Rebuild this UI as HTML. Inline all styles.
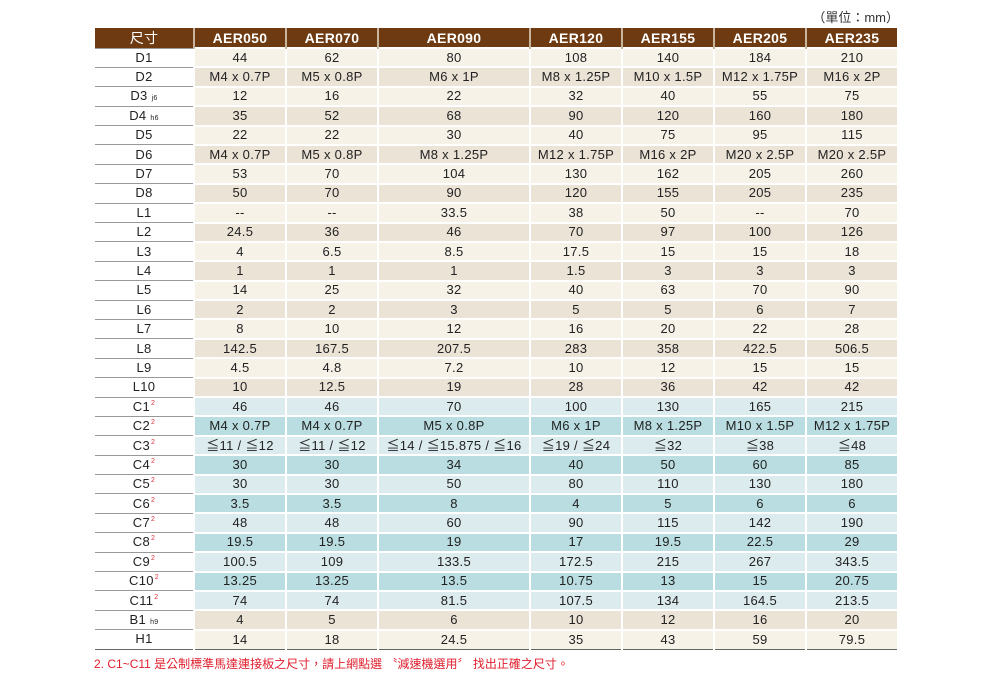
<!DOCTYPE html><html><head><meta charset="utf-8"><style>
body{margin:0;width:990px;height:678px;background:#fff;font-family:"Liberation Sans","Noto Sans CJK TC",sans-serif;position:relative;overflow:hidden}
table{position:absolute;left:95px;top:28px;border-collapse:collapse;table-layout:fixed;width:802px}
tr{height:19.4px}
tr.h{height:20px}
td,th{padding:0;text-align:center;font-size:13px;color:#222;line-height:14px;border-left:2px solid #fff;border-top:2px solid #fff;white-space:nowrap;letter-spacing:.3px}
th{background:#6e3a12;color:#fff;font-size:14px;font-weight:bold;border-top:none;border-left:2px solid #c9b39c}
th:first-child{font-weight:normal;border-left:none}
td:first-child{background:#fff;border-left:none;border-top:1px solid #999}
tr.a td{background:#f6f2e8}tr.b td{background:#ece3d7}
tr.c td{background:#dcebee}tr.d td{background:#b9dde1}
tr.a td:first-child,tr.b td:first-child,tr.c td:first-child,tr.d td:first-child{background:#fff}
sub{font-size:7px;vertical-align:baseline;margin-left:4px;line-height:0}
sup{font-size:7px;color:#e0303a;vertical-align:baseline;position:relative;top:-6px;line-height:0;margin-left:1px}
tr:last-child td{border-bottom:1px solid #666}
</style></head><body>
<div style="position:absolute;right:91px;top:7px;font-size:13px;color:#333">（單位：mm）</div>
<table>
<colgroup><col style="width:99px"><col style="width:92px"><col style="width:92px"><col style="width:152px"><col style="width:92px"><col style="width:92px"><col style="width:92px"><col style="width:91px"></colgroup>
<tr class="h"><th>尺寸</th><th>AER050</th><th>AER070</th><th>AER090</th><th>AER120</th><th>AER155</th><th>AER205</th><th>AER235</th></tr>
<tr class="a"><td>D1</td><td>44</td><td>62</td><td>80</td><td>108</td><td>140</td><td>184</td><td>210</td></tr>
<tr class="b"><td>D2</td><td>M4 x 0.7P</td><td>M5 x 0.8P</td><td>M6 x 1P</td><td>M8 x 1.25P</td><td>M10 x 1.5P</td><td>M12 x 1.75P</td><td>M16 x 2P</td></tr>
<tr class="a"><td>D3<sub>j6</sub></td><td>12</td><td>16</td><td>22</td><td>32</td><td>40</td><td>55</td><td>75</td></tr>
<tr class="b"><td>D4<sub>h6</sub></td><td>35</td><td>52</td><td>68</td><td>90</td><td>120</td><td>160</td><td>180</td></tr>
<tr class="a"><td>D5</td><td>22</td><td>22</td><td>30</td><td>40</td><td>75</td><td>95</td><td>115</td></tr>
<tr class="b"><td>D6</td><td>M4 x 0.7P</td><td>M5 x 0.8P</td><td>M8 x 1.25P</td><td>M12 x 1.75P</td><td>M16 x 2P</td><td>M20 x 2.5P</td><td>M20 x 2.5P</td></tr>
<tr class="a"><td>D7</td><td>53</td><td>70</td><td>104</td><td>130</td><td>162</td><td>205</td><td>260</td></tr>
<tr class="b"><td>D8</td><td>50</td><td>70</td><td>90</td><td>120</td><td>155</td><td>205</td><td>235</td></tr>
<tr class="a"><td>L1</td><td>--</td><td>--</td><td>33.5</td><td>38</td><td>50</td><td>--</td><td>70</td></tr>
<tr class="b"><td>L2</td><td>24.5</td><td>36</td><td>46</td><td>70</td><td>97</td><td>100</td><td>126</td></tr>
<tr class="a"><td>L3</td><td>4</td><td>6.5</td><td>8.5</td><td>17.5</td><td>15</td><td>15</td><td>18</td></tr>
<tr class="b"><td>L4</td><td>1</td><td>1</td><td>1</td><td>1.5</td><td>3</td><td>3</td><td>3</td></tr>
<tr class="a"><td>L5</td><td>14</td><td>25</td><td>32</td><td>40</td><td>63</td><td>70</td><td>90</td></tr>
<tr class="b"><td>L6</td><td>2</td><td>2</td><td>3</td><td>5</td><td>5</td><td>6</td><td>7</td></tr>
<tr class="a"><td>L7</td><td>8</td><td>10</td><td>12</td><td>16</td><td>20</td><td>22</td><td>28</td></tr>
<tr class="b"><td>L8</td><td>142.5</td><td>167.5</td><td>207.5</td><td>283</td><td>358</td><td>422.5</td><td>506.5</td></tr>
<tr class="a"><td>L9</td><td>4.5</td><td>4.8</td><td>7.2</td><td>10</td><td>12</td><td>15</td><td>15</td></tr>
<tr class="b"><td>L10</td><td>10</td><td>12.5</td><td>19</td><td>28</td><td>36</td><td>42</td><td>42</td></tr>
<tr class="c"><td>C1<sup>2</sup></td><td>46</td><td>46</td><td>70</td><td>100</td><td>130</td><td>165</td><td>215</td></tr>
<tr class="d"><td>C2<sup>2</sup></td><td>M4 x 0.7P</td><td>M4 x 0.7P</td><td>M5 x 0.8P</td><td>M6 x 1P</td><td>M8 x 1.25P</td><td>M10 x 1.5P</td><td>M12 x 1.75P</td></tr>
<tr class="c"><td>C3<sup>2</sup></td><td>≦11 / ≦12</td><td>≦11 / ≦12</td><td>≦14 / ≦15.875 / ≦16</td><td>≦19 / ≦24</td><td>≦32</td><td>≦38</td><td>≦48</td></tr>
<tr class="d"><td>C4<sup>2</sup></td><td>30</td><td>30</td><td>34</td><td>40</td><td>50</td><td>60</td><td>85</td></tr>
<tr class="c"><td>C5<sup>2</sup></td><td>30</td><td>30</td><td>50</td><td>80</td><td>110</td><td>130</td><td>180</td></tr>
<tr class="d"><td>C6<sup>2</sup></td><td>3.5</td><td>3.5</td><td>8</td><td>4</td><td>5</td><td>6</td><td>6</td></tr>
<tr class="c"><td>C7<sup>2</sup></td><td>48</td><td>48</td><td>60</td><td>90</td><td>115</td><td>142</td><td>190</td></tr>
<tr class="d"><td>C8<sup>2</sup></td><td>19.5</td><td>19.5</td><td>19</td><td>17</td><td>19.5</td><td>22.5</td><td>29</td></tr>
<tr class="c"><td>C9<sup>2</sup></td><td>100.5</td><td>109</td><td>133.5</td><td>172.5</td><td>215</td><td>267</td><td>343.5</td></tr>
<tr class="d"><td>C10<sup>2</sup></td><td>13.25</td><td>13.25</td><td>13.5</td><td>10.75</td><td>13</td><td>15</td><td>20.75</td></tr>
<tr class="c"><td>C11<sup>2</sup></td><td>74</td><td>74</td><td>81.5</td><td>107.5</td><td>134</td><td>164.5</td><td>213.5</td></tr>
<tr class="b"><td>B1<sub>h9</sub></td><td>4</td><td>5</td><td>6</td><td>10</td><td>12</td><td>16</td><td>20</td></tr>
<tr class="a"><td>H1</td><td>14</td><td>18</td><td>24.5</td><td>35</td><td>43</td><td>59</td><td>79.5</td></tr>
</table>
<div style="position:absolute;left:94px;top:655px;font-size:12px;color:#e0202e">2. C1~C11 是公制標準馬達連接板之尺寸，請上網點選 〝減速機選用〞 找出正確之尺寸。</div>
</body></html>
